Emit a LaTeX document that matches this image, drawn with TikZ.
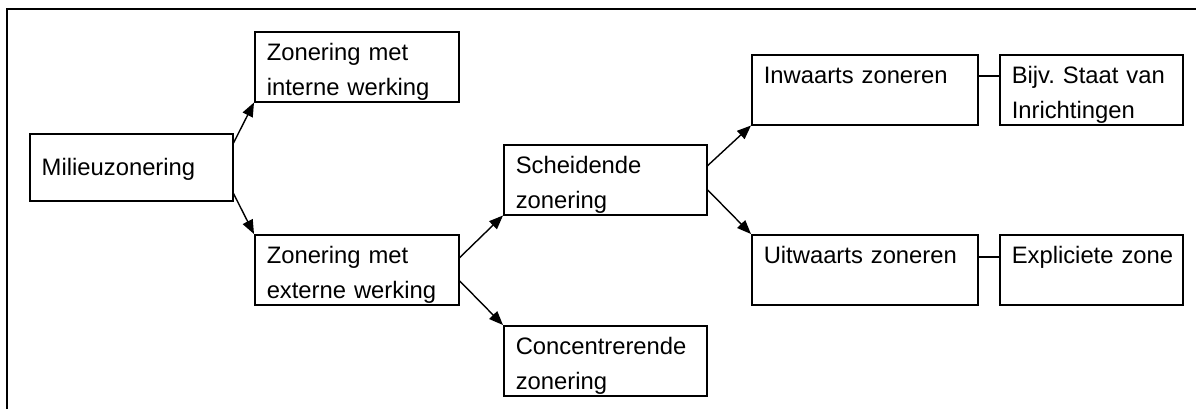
\documentclass[tikz,border=0pt]{standalone}
\usepackage{fontspec}
\setmainfont{Liberation Sans}
\usetikzlibrary{arrows.meta}

\begin{document}
\begin{tikzpicture}[x=0.5pt,y=-0.5pt,
		zbox/.style={draw, line width=0.75pt, anchor=north west, align=left,
			inner xsep=6pt, inner ysep=0pt, text height=14.5pt, text depth=20.5pt,
			font=\fontsize{11.9pt}{17.5pt}\selectfont},
		zpijl/.style={line width=0.7pt, -{Triangle[length=7pt,width=5.5pt]}}]
				\useasboundingbox (0,0) rectangle (1196,409);
				\draw[line width=1.1pt] (7,409) -- (7,9) -- (1196,9);
				\node[zbox, text width=89.5pt, text height=21pt, text depth=12.5pt] (milieu) at (29,133) {Milieuzonering};
				\node[zbox, text width=90pt] (intern) at (254,31) {Zonering met\\interne werking};
				\node[zbox, text width=90pt] (extern) at (254,234) {Zonering met\\externe werking};
				\node[zbox, text width=89.5pt] (scheid) at (503,144) {Scheidende\\zonering};
				\node[zbox, text width=89.5pt] (concent) at (503,325) {Concentrerende\\zonering};
				\node[zbox, text width=101pt] (inw) at (751,54) {Inwaarts zoneren};
				\node[zbox, text width=79.5pt] (bijv) at (999,54) {\mbox{Bijv.~Staat van}\\Inrichtingen};
				\node[zbox, text width=101pt] (uitw) at (751,234) {Uitwaarts zoneren};
				\node[zbox, text width=79.5pt] (expl) at (999,234) {\mbox{Expliciete zone}};
				\draw[zpijl] ([yshift=-5pt]milieu.north east) -- (intern.south west);
				\draw[zpijl] ([yshift=4pt]milieu.south east) -- (extern.north west);
				\draw[zpijl] ([yshift=6pt]extern.east) -- (scheid.south west);
				\draw[zpijl] ([yshift=-5.5pt]extern.east) -- (concent.north west);
				\draw[zpijl] ([yshift=7pt]scheid.east) -- (inw.south west);
				\draw[zpijl] ([yshift=-5pt]scheid.east) -- (uitw.north west);
				\draw[line width=0.75pt] ([yshift=-11pt]inw.north east) -- ([yshift=-11pt]bijv.north west);
				\draw[line width=0.75pt] ([yshift=-11.5pt]uitw.north east) -- ([yshift=-11.5pt]expl.north west);
			\end{tikzpicture}
\end{document}
